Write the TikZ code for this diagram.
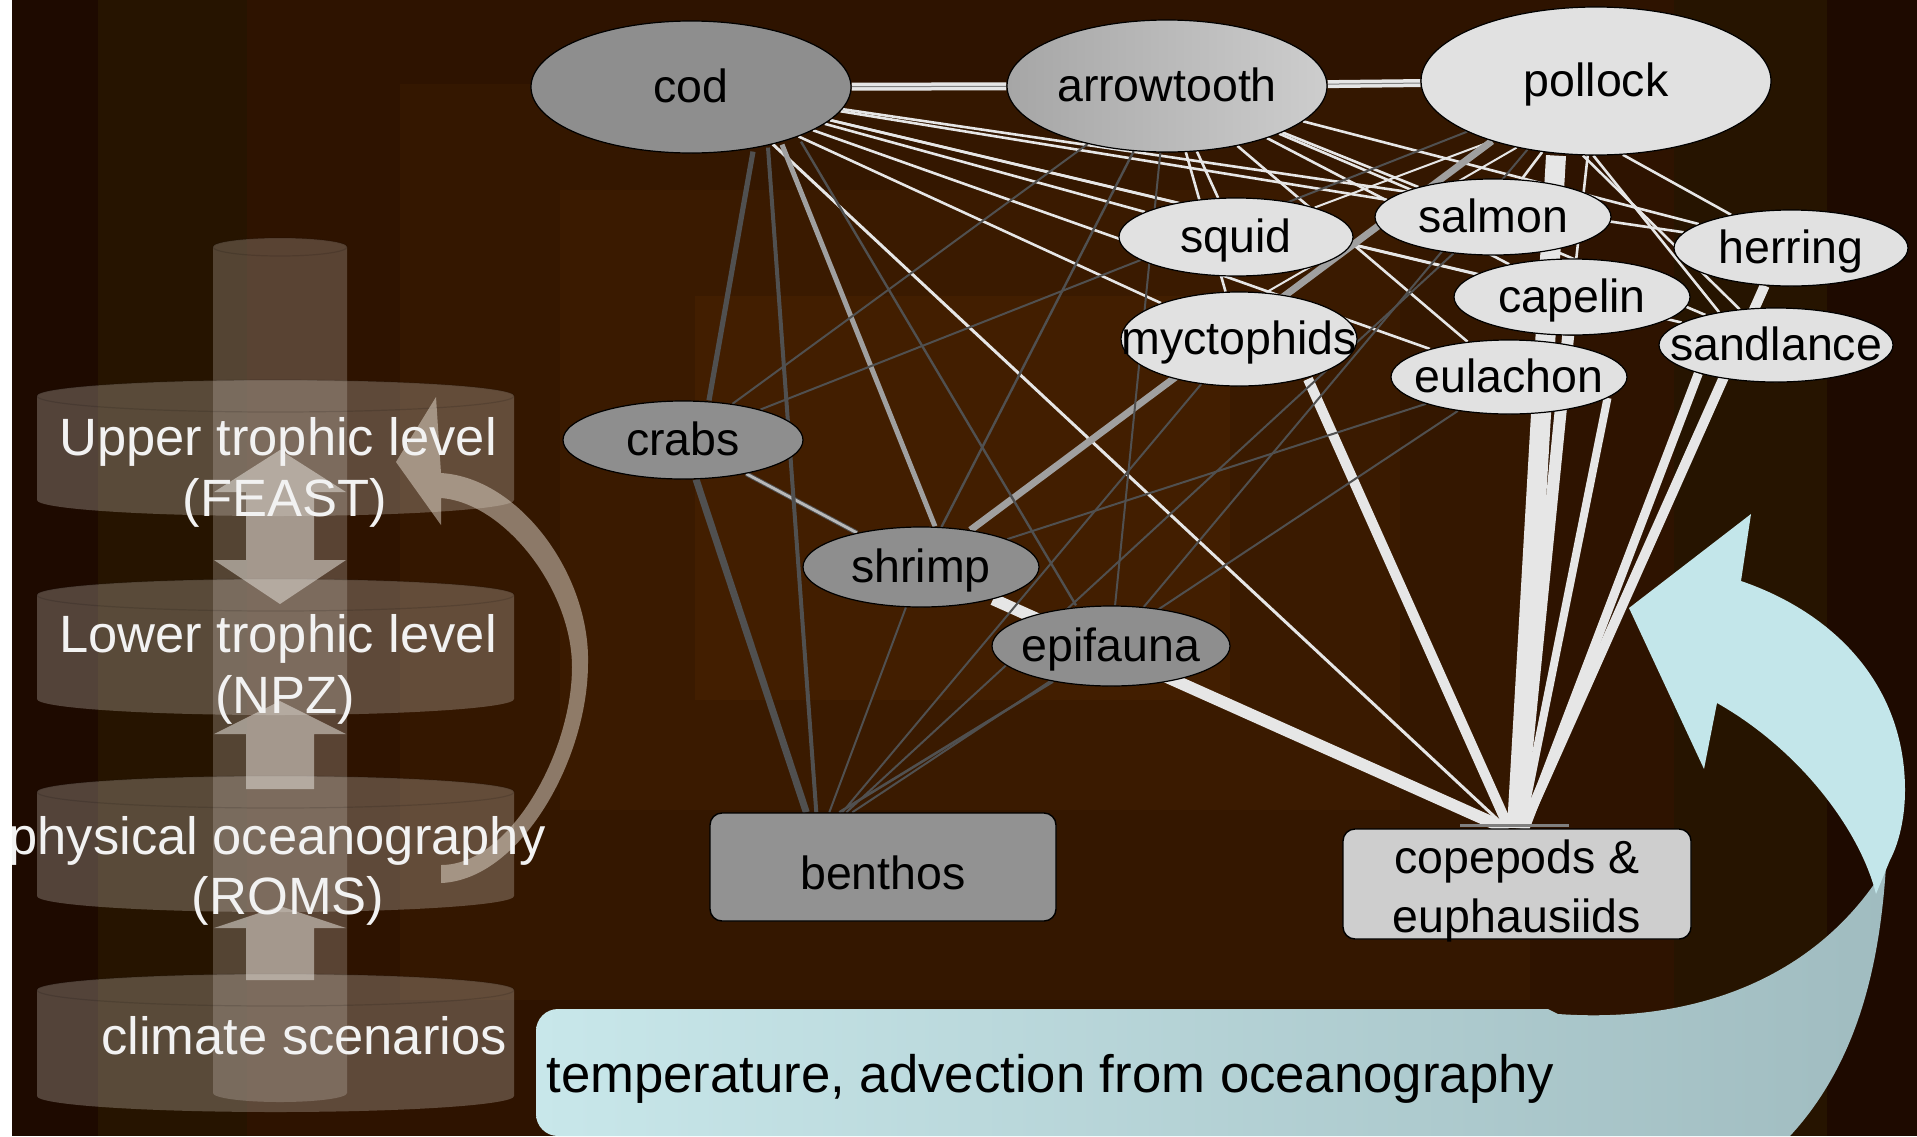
\documentclass[tikz,border=0pt]{standalone}
\usepackage{fontspec}
\setmainfont{Liberation Sans}
\usetikzlibrary{shapes.geometric}
\pgfdeclarelayer{bglayer}
\pgfdeclarelayer{edgelayer}
\pgfsetlayers{bglayer,edgelayer,main}

% backdrop tones (dark rim to warmer centre)
\definecolor{bgA}{HTML}{1E0A00}
\definecolor{bgB}{HTML}{261400}
\definecolor{bgC}{HTML}{2E1300}
\definecolor{bgD}{HTML}{341700}
\definecolor{bgE}{HTML}{3A1A00}
\definecolor{bgF}{HTML}{421E00}
% model stack
\definecolor{diskc}{HTML}{D0C8C0}
\definecolor{arrowc}{HTML}{E2DED8}
\definecolor{loopc}{HTML}{E5DCD0}
\definecolor{labelc}{HTML}{F2F2F2}
% food web
\definecolor{edgeW}{HTML}{E6E6E6}
\definecolor{edgeD}{HTML}{505050}
\definecolor{edgeL}{HTML}{A0A0A0}
\definecolor{darkfish}{HTML}{8E8E8E}
\definecolor{palefish}{HTML}{E1E1E1}
\definecolor{atL}{HTML}{A6A6A6}
\definecolor{atR}{HTML}{CDCDCD}
\definecolor{benthc}{HTML}{929292}
\definecolor{copec}{HTML}{CECECE}
% forcing arrow
\definecolor{seaL}{HTML}{C8E7EA}
\definecolor{seaR}{HTML}{A0BCC0}
\definecolor{seaFront}{HTML}{C3E6EA}

% translucent disk: centre x, top y, bottom y, x radius, y radius, opacity
\newcommand\drawdisk[6]{%
  \fill[diskc, fill opacity=#6] ({#1-#4},#2) -- ({#1-#4},#3)
     arc[start angle=180, end angle=0, x radius=#4, y radius=#5]
     -- ({#1+#4},#2)
     arc[start angle=0, end angle=-180, x radius=#4, y radius=#5] -- cycle;
  \draw[black, draw opacity=0.12, line width=0.6pt] (#1,#2) ellipse[x radius=#4, y radius=#5];
}

\begin{document}
\begin{tikzpicture}[x=0.5pt, y=-0.5pt,
  fish/.style={ellipse, draw=black, line width=0.6pt, inner sep=0pt,
    font=\fontsize{23.25}{28}\selectfont, text height=15pt, text depth=0pt},
  preybox/.style={rectangle, rounded corners=6pt, draw=black, line width=0.7pt,
    inner sep=0pt, font=\fontsize{23.25}{29.5}\selectfont},
  wline/.style={draw=edgeW, line width=1.3pt},
  dline/.style={draw=edgeD, line width=1pt},
  lline/.style={draw=edgeL, line width=2.5pt},
  stacktext/.style={text=labelc, font=\fontsize{26.25}{31}\selectfont, anchor=base, inner sep=0pt},
  blockarrow/.style={fill=arrowc, fill opacity=0.55}
]
\useasboundingbox (0,0) rectangle (1917,1136);

% ---------------- backdrop ----------------
\begin{pgfonlayer}{bglayer}
  \fill[bgA] (12,0) rectangle (1917,1136);
  \fill[bgB] (98,0) rectangle (1827,1136);
  \fill[bgC] (247,0) rectangle (1674,1136);
  \fill[bgD] (400,84) rectangle (1530,1000);
  \fill[bgE] (560,190) rectangle (1400,810);
  \fill[bgF] (695,296) rectangle (1230,700);
\end{pgfonlayer}

% ---------------- model stack ----------------
\drawdisk{280}{247}{1093}{67}{9}{0.27}
\drawdisk{275.5}{396}{500}{238.5}{16}{0.3}
\drawdisk{275.5}{595}{699}{238.5}{16}{0.3}
\drawdisk{275.5}{792}{896}{238.5}{16}{0.3}
\drawdisk{275.5}{990}{1096}{238.5}{16}{0.3}

% coupling arrows between the models
\fill[blockarrow] (280,450) -- (346,492) -- (314,492) -- (314,560) -- (346,560)
  -- (280,604) -- (214,560) -- (246,560) -- (246,492) -- (214,492) -- cycle;
\fill[blockarrow] (280,701) -- (346,734) -- (314,734) -- (314,789)
  -- (246,789) -- (246,734) -- (214,734) -- cycle;
\fill[blockarrow] (280,906) -- (346,928) -- (314,928) -- (314,980)
  -- (246,980) -- (246,928) -- (214,928) -- cycle;

% feedback loop from the ocean model back to the upper trophic level
\fill[loopc, fill opacity=0.5] (436,397) -- (396,462) -- (441,525) -- (441,498)
  .. controls (505,503) and (572,590) .. (572,667)
  .. controls (572,752) and (510,865) .. (441,865) -- (441,883)
  .. controls (520,880) and (588,760) .. (588,663)
  .. controls (590,575) and (520,478) .. (441,473) -- cycle;

\node[stacktext] (utl1) at (278,455) {Upper trophic level};
\node[stacktext] (utl2) at (285,516) {(FEAST)};
\node[stacktext] (ltl1) at (278,652) {Lower trophic level};
\node[stacktext] (ltl2) at (285,713) {(NPZ)};
\node[stacktext] (phy1) at (277,854) {physical oceanography};
\node[stacktext] (phy2) at (288,914) {(ROMS)};
\node[stacktext] (clim) at (304,1054) {climate scenarios};

% ---------------- forcing arrow ----------------
\shade[left color=seaL, right color=seaR]
  (558,1009) -- (1548,1009) -- (1558,1014)
  .. controls (1700,1024) and (1820,975) .. (1886,866)
  .. controls (1880,960) and (1860,1060) .. (1790,1136)
  -- (558,1136) arc[start angle=90, end angle=180, radius=22] -- (536,1031)
  arc[start angle=180, end angle=270, radius=22] -- cycle;
\fill[seaFront] (1751,514) -- (1741,581)
  .. controls (1840,615) and (1905,690) .. (1905,790)
  .. controls (1905,820) and (1898,845) .. (1890,860)
  -- (1876,894)
  .. controls (1860,830) and (1800,750) .. (1717,703)
  -- (1704,769) -- (1629,608) -- cycle;
\node[anchor=base west, inner sep=0pt, font=\fontsize{26.35}{31}\selectfont] (forcing)
  at (546,1092) {temperature, advection from oceanography};

% ---------------- food web nodes ----------------
\node[fish, fill=darkfish, minimum width=160pt, minimum height=66pt] (cod) at (691,87) {\makebox[0pt]{cod}};
\node[fish, left color=atL, right color=atR, minimum width=160pt, minimum height=66pt] (arrowtooth) at (1167,86) {\makebox[0pt]{arrowtooth}};
\node[fish, fill=palefish, minimum width=175pt, minimum height=74pt] (pollock) at (1596,81) {\makebox[0pt]{pollock}};
\node[fish, fill=palefish, minimum width=117pt, minimum height=39pt] (squid) at (1236,237) {\makebox[0pt]{squid}};
\node[fish, fill=palefish, minimum width=118pt, minimum height=38pt] (salmon) at (1493,217) {\makebox[0pt]{salmon}};
\node[fish, fill=palefish, minimum width=117pt, minimum height=38pt] (herring) at (1791,248) {\makebox[0pt]{herring}};
\node[fish, fill=palefish, minimum width=118pt, minimum height=47pt] (myctophids) at (1239,339) {\makebox[0pt]{myctophids}};
\node[fish, fill=palefish, minimum width=118pt, minimum height=38pt] (capelin) at (1572,297) {\makebox[0pt]{capelin}};
\node[fish, fill=palefish, minimum width=118pt, minimum height=37pt] (eulachon) at (1509,377) {\makebox[0pt]{eulachon}};
\node[fish, fill=palefish, minimum width=117pt, minimum height=37pt] (sandlance) at (1776,345) {\makebox[0pt]{sandlance}};
\node[fish, fill=darkfish, minimum width=120pt, minimum height=39pt] (crabs) at (683,440) {\makebox[0pt]{crabs}};
\node[fish, fill=darkfish, minimum width=118pt, minimum height=40pt] (shrimp) at (921,567) {\makebox[0pt]{shrimp}};
\node[fish, fill=darkfish, minimum width=119pt, minimum height=40pt] (epifauna) at (1111,646) {\makebox[0pt]{epifauna}};
\node[preybox, fill=benthc, minimum width=173pt, minimum height=54pt, text height=22pt, text depth=0pt] (benthos) at (883,867) {benthos};
\node[preybox, fill=copec, minimum width=174pt, minimum height=55pt] (cope) at (1517,884)
  {\raisebox{-24pt}[0pt][0pt]{\begin{tabular}[b]{@{}c@{}}copepods \&\\euphausiids\end{tabular}}};
\coordinate (bin) at ([shift={(105,0)}]benthos.north west);

% ---------------- food web links ----------------
\begin{pgfonlayer}{edgelayer}
  % predators feeding on the forage fish
  \foreach \prey in {squid,salmon,capelin,herring,sandlance,eulachon,myctophids}{
    \draw[wline] (cod) -- (\prey);
    \draw[wline] (arrowtooth) -- (\prey);
  }
  \draw[wline] (pollock.-100) -- (sandlance);
  \draw[wline] (pollock.-92) -- (sandlance.150);
  \draw[wline] (pollock.-70) -- (herring);
  \draw[wline] (pollock) -- (salmon);
  \draw[wline] (pollock) -- (capelin);
  \draw[wline, line width=1pt] (pollock.-150) -- (squid);
  \draw[wline, line width=1pt] (pollock.-140) -- (myctophids.60);

  % strong links along the top row
  \draw[draw=edgeW, line width=4pt] (cod) -- (arrowtooth);
  \draw[draw=edgeW, line width=4pt] (arrowtooth) -- (pollock);
  \draw[draw=gray, line width=0.5pt] (cod) -- (arrowtooth);
  \draw[draw=gray, line width=0.5pt] (arrowtooth) -- (pollock);

  % zooplankton links
  \draw[wline, line width=1.5pt] (cod.-35) -- ([shift={(-10,0)}]cope.north);
  \draw[wline, line width=5pt] ([shift={(69,40)}]myctophids.center) -- ([shift={(-8,0)}]cope.north);
  \draw[wline, line width=6pt] (shrimp) -- ([shift={(-12,0)}]cope.north);
  \draw[wline, line width=10pt] ([shift={(-40,0)}]pollock.south) -- ([shift={(0,0)}]cope.north);
  \draw[wline, line width=6pt] (capelin) -- ([shift={(2,0)}]cope.north);
  \draw[wline, line width=4pt] (eulachon.-12) -- ([shift={(4,0)}]cope.north);
  \draw[wline, line width=5pt] (herring.-125) -- ([shift={(6,0)}]cope.north);
  \draw[wline, line width=4.5pt] (sandlance.-160) -- ([shift={(8,0)}]cope.north);

  % lighter grey links
  \draw[lline] ([shift={(91,-9)}]cod.south) -- ([shift={(14,0)}]shrimp.north);
  \draw[lline, line width=3.5pt] (pollock.-150) -- (shrimp);
  \draw[draw=edgeD, line width=2.4pt] (crabs) -- (shrimp);
  \draw[draw=gray!55, line width=1.4pt] (crabs) -- (shrimp);

  % benthic links
  \draw[dline, line width=2.6pt] ([shift={(62,-2)}]cod.south) -- ([shift={(26,0)}]crabs.north);
  \draw[dline, line width=2pt] ([shift={(77,-6)}]cod.south) -- ([shift={(2,0)}]bin);
  \draw[dline, line width=3.5pt] (crabs) -- ([shift={(-8,0)}]bin);
  \draw[dline, line width=1.2pt] ([shift={(110,-12)}]cod.south) -- ([shift={(-35,0)}]epifauna.north);
  \draw[dline] (arrowtooth) -- (crabs);
  \draw[dline] (pollock) -- (crabs);
  \draw[dline, line width=1.2pt] (arrowtooth) -- (shrimp);
  \draw[dline] (arrowtooth) -- (epifauna);
  \draw[dline] (pollock.-135) -- (epifauna);
  \draw[dline] (shrimp) -- ([shift={(15,0)}]bin);
  \draw[dline, line width=1.3pt] (epifauna) -- ([shift={(25,0)}]bin);
  \draw[dline] (eulachon) -- ([shift={(38,0)}]bin);
  \draw[dline] (salmon) -- ([shift={(32,0)}]bin);
  \draw[dline] (myctophids) -- ([shift={(28,0)}]bin);
  \draw[dline] (eulachon) -- (shrimp);
\end{pgfonlayer}

% small bar where the plankton links meet
\draw[draw=gray, line width=1.2pt] ([shift={(-57,-3)}]cope.north) -- ([shift={(52,-3)}]cope.north);

% white margin on the left
\fill[white] (0,0) rectangle (12,1136);
\end{tikzpicture}
\end{document}
